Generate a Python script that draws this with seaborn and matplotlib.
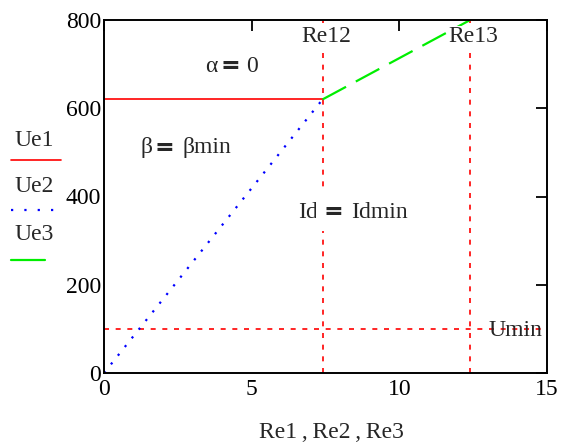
import matplotlib
matplotlib.use("Agg")
import matplotlib.pyplot as plt
import seaborn as sns
from matplotlib.lines import Line2D

# Data
re1 = [0.0, 7.4]
ue1 = [620, 620]
re2 = [0.0, 7.4]
ue2 = [0, 620]
re3 = [7.4, 12.4]
ue3 = [620, 800]
re12 = 7.4
re13 = 12.4
umin = 100
x_ticks = [0, 5, 10, 15]
y_ticks = [0, 200, 400, 600, 800]

sns.set_theme(style="white")
plt.rcParams['font.family'] = ['Liberation Serif', 'DejaVu Serif']

W, H = 563, 443
fig = plt.figure(figsize=(W / 100, H / 100), dpi=100)
ax = fig.add_axes([104 / W, 70 / H, 443 / W, 353 / H])

RED = '#ff0000'
BLUE = '#0000ff'
GREEN = '#00ee00'
dotted = (0, (1, 4))
longdash = (0, (12, 5))
reddash = (0, (3, 4))

sns.lineplot(x=re1, y=ue1, ax=ax, color=RED, lw=1.2)
sns.lineplot(x=re2, y=ue2, ax=ax, color=BLUE, lw=1.6, linestyle=dotted)
sns.lineplot(x=re3, y=ue3, ax=ax, color=GREEN, lw=1.6, linestyle=longdash)

ax.axvline(re12, color=RED, lw=1.2, linestyle=reddash, zorder=1)
ax.axvline(re13, color=RED, lw=1.2, linestyle=reddash, zorder=1)
ax.axhline(umin, color=RED, lw=1.2, linestyle=reddash, zorder=1)

ax.set_xlim(0, 15)
ax.set_ylim(0, 800)
ax.set_xticks(x_ticks)
ax.set_yticks(y_ticks)
ax.tick_params(direction='in', length=8, width=1.3, top=True, right=True,
               labelsize=17, colors='black')
ax.tick_params(axis='y', pad=2)
ax.tick_params(axis='x', pad=4)
for s in ax.spines.values():
    s.set_color('black')
    s.set_linewidth(1.4)

ax.set_xlabel('Re1\u2009,\u2009Re2\u2009,\u2009Re3', fontsize=17, va='center')
ax.xaxis.set_label_coords((331 - 104) / 443, (373 - 432) / 353)


def fx(p):
    return p / W


def fy(p):
    return 1 - p / H


FS = 17
bb = dict(facecolor='white', edgecolor='none', pad=0.5)
bbw = dict(facecolor='white', edgecolor='none', pad=5)


def equation(lhs, rhs, lhs_right, eq_center, rhs_left, yc, box=None):
    kw = dict(fontsize=FS, va='center', transform=fig.transFigure, zorder=4)
    if box is not None:
        kw['bbox'] = box
    ax.text(fx(lhs_right), fy(yc), lhs, ha='right', **kw)
    ax.text(fx(eq_center), fy(yc), '=', ha='center', fontweight='bold',
            family=['DejaVu Sans'], **kw)
    ax.text(fx(rhs_left), fy(yc), rhs, ha='left', **kw)


equation('α', '0', 218, 230, 246, 66)
equation('β', 'βmin', 152, 164, 182, 148)
equation('Id', 'Idmin', 318, 333, 351, 212, box=bbw)

ax.text(fx(326), fy(37), 'Re12', fontsize=FS, ha='center', va='center',
        transform=fig.transFigure, bbox=bb, zorder=3)
ax.text(fx(473), fy(37), 'Re13', fontsize=FS, ha='center', va='center',
        transform=fig.transFigure, bbox=bb, zorder=3)
ax.text(fx(515), fy(331), 'Umin', fontsize=FS, ha='center', va='center',
        transform=fig.transFigure, zorder=3)

# Legend on the left
fig.text(fx(14), fy(140), 'Ue1', fontsize=FS, va='center', ha='left')
fig.add_artist(Line2D([fx(11), fx(61)], [fy(160), fy(160)], color=RED, lw=1.2))
fig.text(fx(14), fy(187), 'Ue2', fontsize=FS, va='center', ha='left')
fig.add_artist(Line2D([fx(11), fx(54)], [fy(210), fy(210)], color=BLUE, lw=1.6,
                      linestyle=(0, (1, 5))))
fig.text(fx(14), fy(235), 'Ue3', fontsize=FS, va='center', ha='left')
fig.add_artist(Line2D([fx(11), fx(45)], [fy(260), fy(260)], color=GREEN, lw=1.6))

fig.savefig('out.png', dpi=100)
